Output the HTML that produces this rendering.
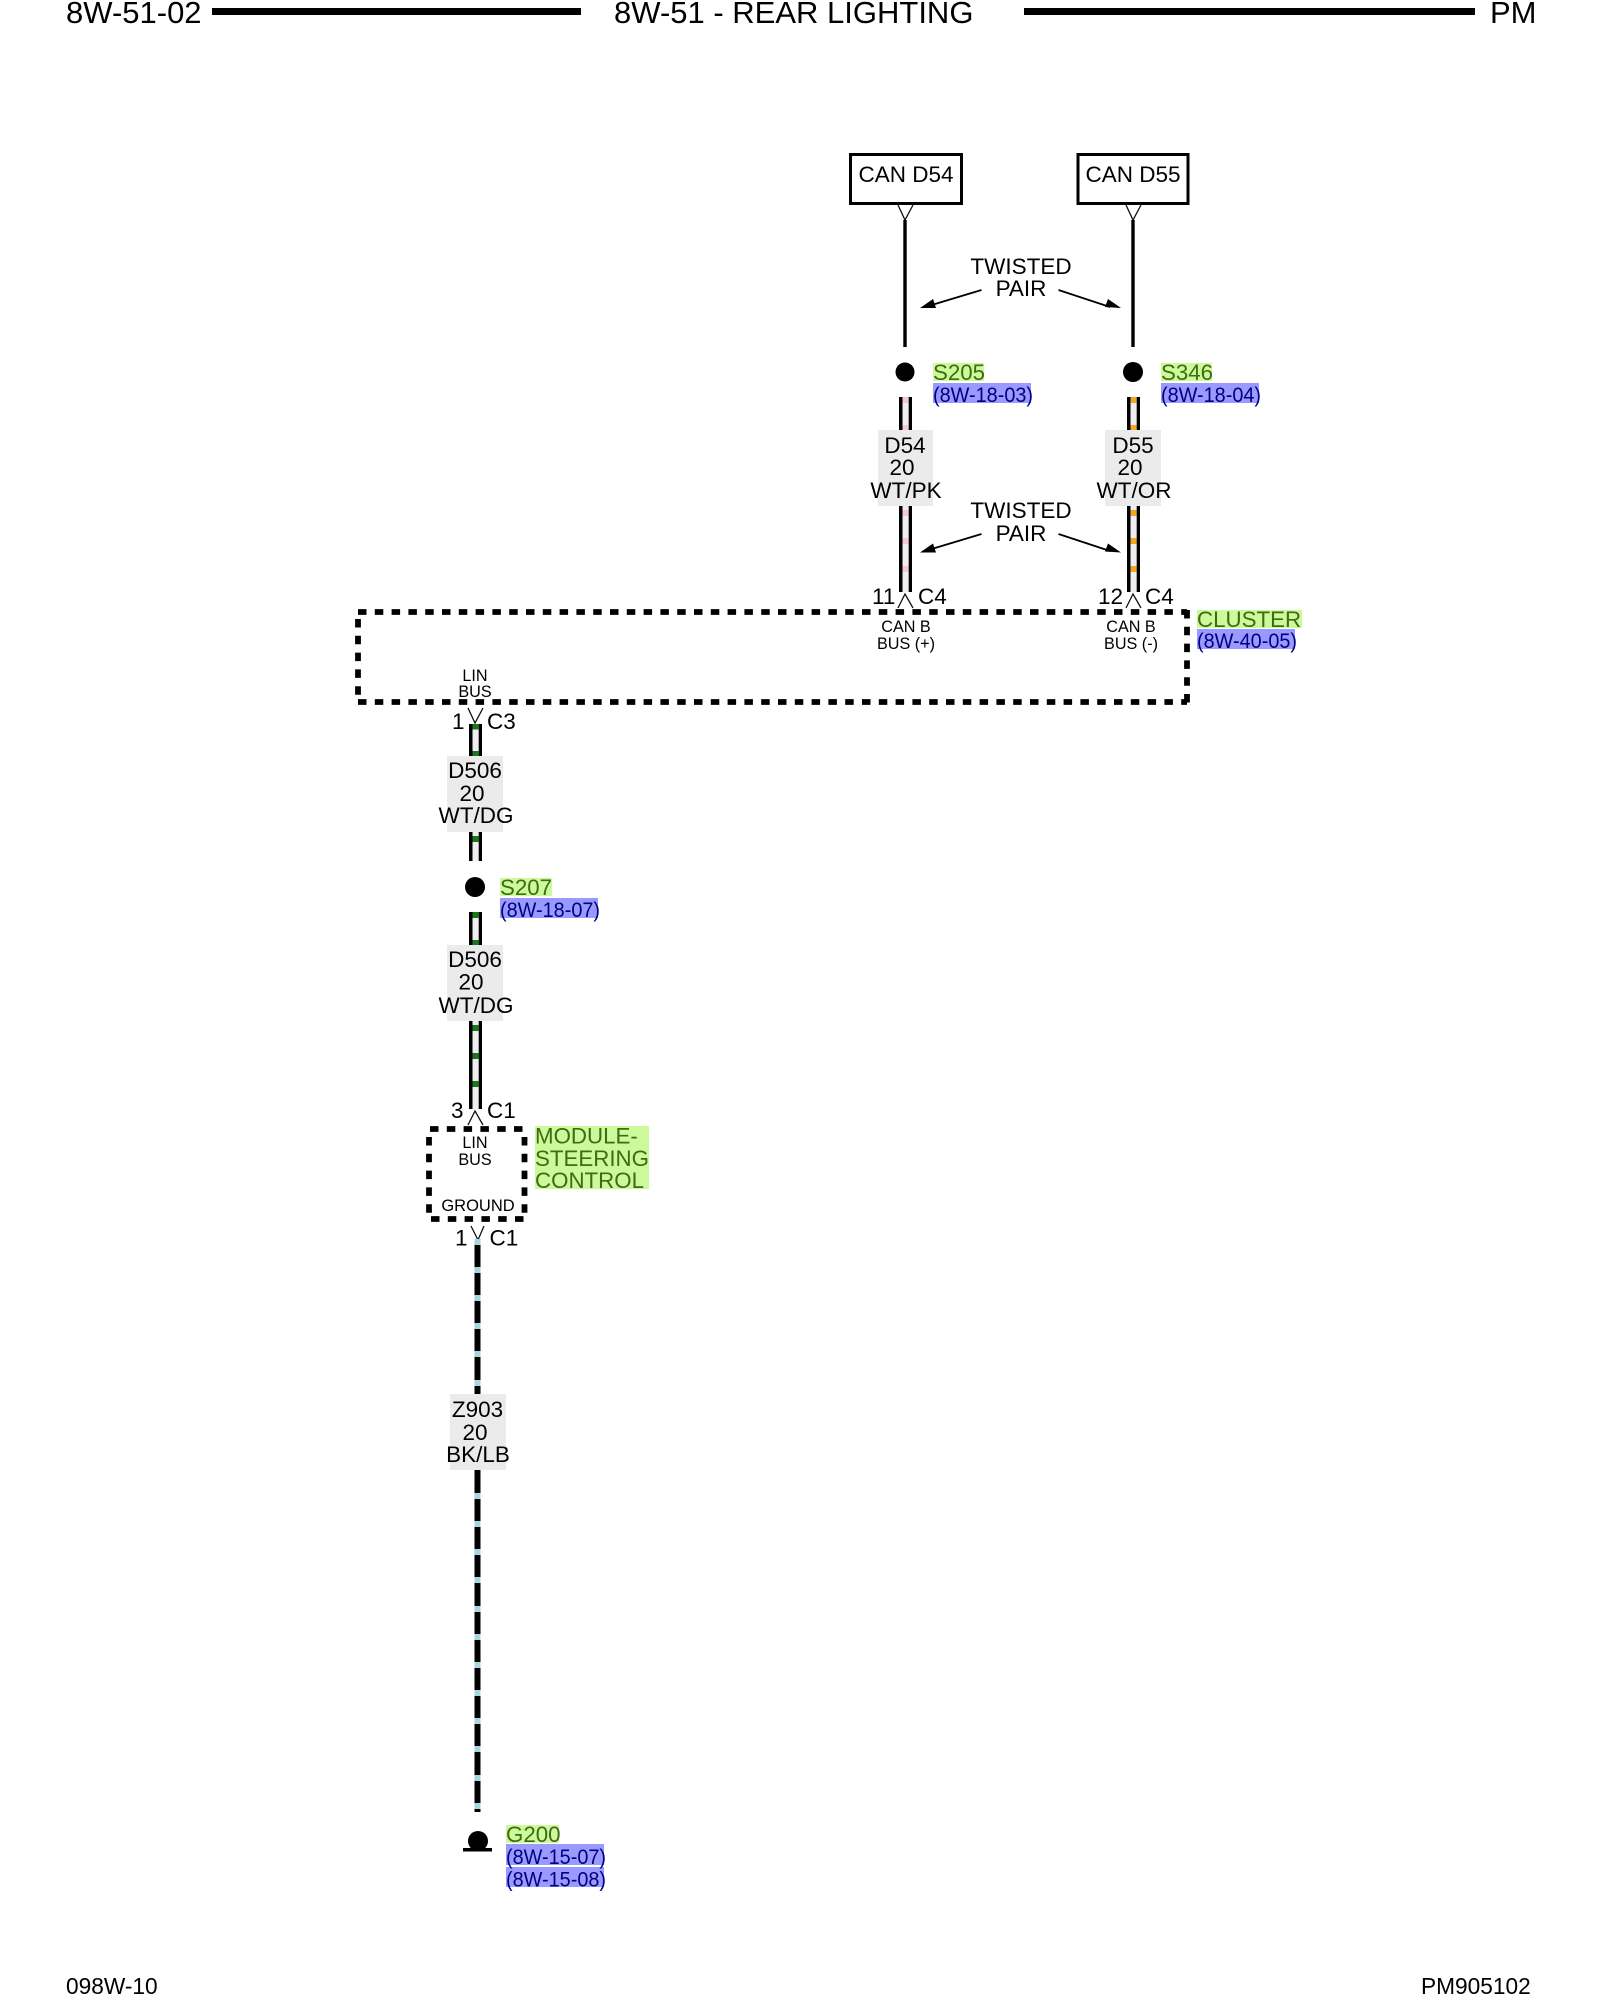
<!DOCTYPE html>
<html lang="en">
<head>
<meta charset="utf-8">
<title>8W-51 - REAR LIGHTING</title>
<style>
html,body{margin:0;padding:0;background:#fff}
svg{display:block}
text{font-family:"Liberation Sans",Arial,sans-serif;fill:#000}
.h{font-size:31px}
.f{font-size:22.7px}
.w{font-size:22.5px}
.m{text-anchor:middle}
.s{font-size:16.2px}
.g{font-size:22.3px;fill:#3f6b12}
.b{font-size:21px;fill:#000080}
.d{fill:none;stroke:#000;stroke-width:5.8;stroke-dasharray:8.5 8.3}
.v{fill:none;stroke:#111;stroke-width:1.3}
</style>
</head>
<body>
<svg xmlns="http://www.w3.org/2000/svg" width="1600" height="2000" viewBox="0 0 1600 2000">
<rect width="1600" height="2000" fill="#fff"/>

<!-- header -->
<text class="h" x="66" y="23">8W-51-02</text>
<rect x="212" y="8" width="369" height="7" fill="#000"/>
<text class="h" x="614" y="23">8W-51 - REAR LIGHTING</text>
<rect x="1024" y="8" width="451" height="7" fill="#000"/>
<text class="h" x="1490" y="23">PM</text>

<!-- footer -->
<text class="f" x="66" y="1994">098W-10</text>
<text class="f" x="1421" y="1994">PM905102</text>

<!-- CAN boxes -->
<rect x="850.5" y="154.5" width="111" height="49" fill="#fff" stroke="#000" stroke-width="3"/>
<rect x="1078" y="154.5" width="110" height="49" fill="#fff" stroke="#000" stroke-width="3"/>
<text class="w m" x="906" y="182">CAN D54</text>
<text class="w m" x="1133" y="182">CAN D55</text>
<path class="v" d="M898 205L905 220L913 205M1126 205L1133 220L1141 205"/>
<rect x="903.3" y="220" width="3.4" height="127" fill="#000"/>
<rect x="1131.3" y="220" width="3.4" height="127" fill="#000"/>

<!-- twisted pair top -->
<text class="w m" x="1021" y="274">TWISTED</text>
<text class="w m" x="1021" y="296">PAIR</text>
<path d="M981.5 290L930 305.500M1058.500 290L1110 307" stroke="#000" stroke-width="1.8" fill="none"/>
<path d="M920 308L933 299L936 308ZM1121 308L1108 299L1105 307Z" fill="#000"/>

<!-- splices S205 / S346 -->
<circle cx="905" cy="372" r="9.5" fill="#000"/>
<circle cx="1133" cy="372" r="10" fill="#000"/>
<rect x="933" y="363" width="51" height="18" fill="#ccf99a"/>
<rect x="933" y="383" width="98" height="20" fill="#9999ff"/>
<text class="g" x="933" y="380">S205</text>
<text class="b" x="933" y="402" textLength="100" lengthAdjust="spacingAndGlyphs">(8W-18-03)</text>
<rect x="1161" y="363" width="51" height="18" fill="#ccf99a"/>
<rect x="1161" y="383" width="98" height="20" fill="#9999ff"/>
<text class="g" x="1161" y="380">S346</text>
<text class="b" x="1161" y="402" textLength="100" lengthAdjust="spacingAndGlyphs">(8W-18-04)</text>

<!-- D54 wire -->
<rect x="899" y="397" width="13" height="195" fill="#f0eef0"/>
<g fill="#f7c8d8">
<rect x="902.500" y="397" width="6.200" height="6"/><rect x="902.500" y="425" width="6.200" height="6"/>
<rect x="902.500" y="510" width="6.200" height="6"/><rect x="902.500" y="538" width="6.200" height="6"/><rect x="902.500" y="566" width="6.200" height="6"/>
</g>
<rect x="899" y="397" width="3.500" height="195" fill="#000"/>
<rect x="908.700" y="397" width="3.300" height="195" fill="#000"/>

<!-- D55 wire -->
<rect x="1127" y="397" width="13" height="195" fill="#f0eef0"/>
<g fill="#f5a623">
<rect x="1130.500" y="397" width="6.200" height="6"/><rect x="1130.500" y="425" width="6.200" height="6"/>
<rect x="1130.500" y="510" width="6.200" height="6"/><rect x="1130.500" y="538" width="6.200" height="6"/><rect x="1130.500" y="566" width="6.200" height="6"/>
</g>
<rect x="1127" y="397" width="3.500" height="195" fill="#000"/>
<rect x="1136.700" y="397" width="3.300" height="195" fill="#000"/>

<!-- D54/D55 labels -->
<rect x="878" y="430" width="55" height="76" fill="#ebebeb"/>
<text class="w m" x="905" y="453">D54</text>
<text class="w m" x="902" y="475">20</text>
<text class="w m" x="906" y="498">WT/PK</text>
<rect x="1105" y="430" width="56" height="76" fill="#ebebeb"/>
<text class="w m" x="1133" y="453">D55</text>
<text class="w m" x="1130" y="475">20</text>
<text class="w m" x="1134" y="498">WT/OR</text>

<!-- twisted pair lower -->
<text class="w m" x="1021" y="518">TWISTED</text>
<text class="w m" x="1021" y="541">PAIR</text>
<path d="M981.500 534L930 549.500M1058.500 534L1110 551" stroke="#000" stroke-width="1.800" fill="none"/>
<path d="M920 552.500L933 543.500L936 552.500ZM1121 552.500L1108 543.500L1105 551.500Z" fill="#000"/>

<!-- C4 pins -->
<text class="w" x="872" y="604">11</text>
<text class="w" x="918" y="604">C4</text>
<text class="w" x="1098" y="604">12</text>
<text class="w" x="1145" y="604">C4</text>
<path class="v" d="M898 608L905 594L913 608M1126 608L1133 594L1141 608"/>

<!-- cluster dashed box -->
<path class="d" d="M358 612H1187"/>
<path class="d" d="M1187 610V703"/>
<path class="d" d="M358 702H1187"/>
<path class="d" d="M358 619V700"/>
<text class="s m" x="906" y="632">CAN B</text>
<text class="s m" x="906" y="649">BUS (+)</text>
<text class="s m" x="1131" y="632">CAN B</text>
<text class="s m" x="1131" y="649">BUS (-)</text>
<text class="s m" x="475" y="681">LIN</text>
<text class="s m" x="475" y="697">BUS</text>
<rect x="1197" y="610" width="105" height="18" fill="#ccf99a"/>
<rect x="1197" y="629" width="98" height="20" fill="#9999ff"/>
<text class="g" x="1197" y="627">CLUSTER</text>
<text class="b" x="1197" y="648" textLength="100" lengthAdjust="spacingAndGlyphs">(8W-40-05)</text>

<!-- C3 pin -->
<text class="w" x="452" y="729">1</text>
<text class="w" x="487" y="729">C3</text>
<path class="v" d="M468 708L475 723L483 708"/>

<!-- D506 upper -->
<rect x="469" y="724" width="13" height="137" fill="#f0eef0"/>
<g fill="#1a7a1a">
<rect x="472.500" y="724" width="6.200" height="5.500"/><rect x="472.500" y="751" width="6.200" height="5.500"/><rect x="472.500" y="836" width="6.200" height="6"/>
</g>
<rect x="469" y="724" width="3.500" height="137" fill="#000"/>
<rect x="478.700" y="724" width="3.300" height="137" fill="#000"/>
<rect x="447" y="756" width="56" height="76" fill="#ebebeb"/>
<text class="w m" x="475" y="778">D506</text>
<text class="w m" x="472" y="801">20</text>
<text class="w m" x="476" y="823">WT/DG</text>

<!-- S207 -->
<circle cx="475" cy="887" r="10" fill="#000"/>
<rect x="500" y="878" width="52" height="18" fill="#ccf99a"/>
<rect x="500" y="898" width="98" height="20" fill="#9999ff"/>
<text class="g" x="500" y="895">S207</text>
<text class="b" x="500" y="917" textLength="100" lengthAdjust="spacingAndGlyphs">(8W-18-07)</text>

<!-- D506 lower -->
<rect x="469" y="912" width="13" height="197" fill="#f0eef0"/>
<g fill="#1a7a1a">
<rect x="472.500" y="912" width="6.200" height="6"/><rect x="472.500" y="940" width="6.200" height="6"/>
<rect x="472.500" y="1025" width="6.200" height="6"/><rect x="472.500" y="1053" width="6.200" height="6"/><rect x="472.500" y="1081" width="6.200" height="6"/>
</g>
<rect x="469" y="912" width="3.500" height="197" fill="#000"/>
<rect x="478.700" y="912" width="3.300" height="197" fill="#000"/>
<rect x="447" y="945" width="56" height="76" fill="#ebebeb"/>
<text class="w m" x="475" y="967">D506</text>
<text class="w m" x="471" y="989.500">20</text>
<text class="w m" x="476" y="1013">WT/DG</text>

<!-- C1 pin top -->
<text class="w" x="451" y="1118">3</text>
<text class="w" x="487" y="1118">C1</text>
<path class="v" d="M468 1125L475 1111L483 1125"/>

<!-- steering module -->
<path class="d" d="M430 1129H527"/>
<path class="d" d="M524.500 1137V1215"/>
<path class="d" d="M431 1219H526"/>
<path class="d" d="M429 1137V1215"/>
<text class="s m" x="475" y="1148">LIN</text>
<text class="s m" x="475" y="1165">BUS</text>
<text class="s m" x="478" y="1211" style="font-size:16.500px">GROUND</text>
<rect x="535" y="1126" width="114" height="63" fill="#ccf99a"/>
<text class="g" x="535" y="1143.500">MODULE-</text>
<text class="g" x="535" y="1166">STEERING</text>
<text class="g" x="535" y="1188">CONTROL</text>

<!-- C1 pin bottom -->
<text class="w" x="455" y="1245.500">1</text>
<text class="w" x="489.500" y="1245.500">C1</text>
<path class="v" d="M471 1226L478 1240L484 1226"/>

<!-- Z903 wire -->
<rect x="474.500" y="1239" width="6" height="573" fill="#000"/>
<g fill="#a9d4e0">
<rect x="474.500" y="1239" width="6" height="6"/><rect x="474.500" y="1267" width="6" height="6"/><rect x="474.500" y="1295" width="6" height="6"/>
<rect x="474.500" y="1323" width="6" height="6"/><rect x="474.500" y="1351" width="6" height="6"/><rect x="474.500" y="1380" width="6" height="6"/>
<rect x="474.500" y="1493" width="6" height="6"/><rect x="474.500" y="1521" width="6" height="6"/><rect x="474.500" y="1549" width="6" height="6"/>
<rect x="474.500" y="1577" width="6" height="6"/><rect x="474.500" y="1606" width="6" height="6"/><rect x="474.500" y="1634" width="6" height="6"/>
<rect x="474.500" y="1662" width="6" height="6"/><rect x="474.500" y="1690" width="6" height="6"/><rect x="474.500" y="1718" width="6" height="6"/>
<rect x="474.500" y="1746" width="6" height="6"/><rect x="474.500" y="1775" width="6" height="6"/><rect x="474.500" y="1803" width="6" height="6"/>
</g>
<rect x="450" y="1394" width="56" height="76" fill="#ebebeb"/>
<text class="w m" x="477.500" y="1417">Z903</text>
<text class="w m" x="475" y="1440">20</text>
<text class="w m" x="478" y="1462">BK/LB</text>

<!-- ground -->
<circle cx="478" cy="1841" r="10" fill="#000"/>
<rect x="463" y="1848" width="29" height="3.500" fill="#000"/>
<rect x="506" y="1825" width="53" height="18" fill="#ccf99a"/>
<rect x="506" y="1844" width="98" height="21" fill="#9999ff"/>
<rect x="506" y="1867" width="98" height="20" fill="#9999ff"/>
<text class="g" x="506" y="1842">G200</text>
<text class="b" x="506" y="1864" textLength="100" lengthAdjust="spacingAndGlyphs">(8W-15-07)</text>
<text class="b" x="506" y="1886.500" textLength="100" lengthAdjust="spacingAndGlyphs">(8W-15-08)</text>
</svg>
</body>
</html>
